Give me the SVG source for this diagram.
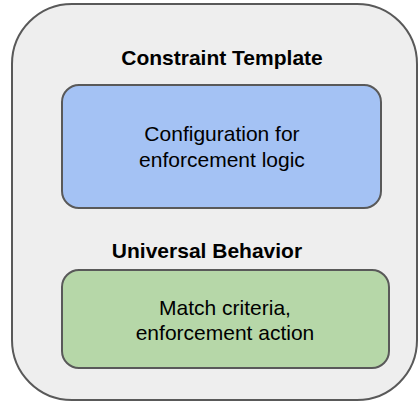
<svg xmlns="http://www.w3.org/2000/svg" width="418" height="401" viewBox="0 0 418 401">
<style>
.box{stroke:#595959;stroke-width:2}
.t{font-family:"Liberation Sans",Arial,sans-serif;font-size:21px;fill:#000;text-anchor:middle}
.b{font-weight:bold}
</style>
<rect width="418" height="401" fill="#fff"/>
<g id="outer">
<rect class="box" x="12" y="4" width="405" height="396" rx="60" ry="60" fill="#eeeeee"/>
<text class="t b" x="222" y="65">Constraint Template</text>
<text class="t b" x="207" y="258">Universal Behavior</text>
</g>
<g id="config">
<rect class="box" x="62" y="85" width="319" height="123" rx="17" ry="17" fill="#a4c2f4"/>
<text class="t" x="222" y="141">Configuration for</text>
<text class="t" x="222" y="167">enforcement logic</text>
</g>
<g id="match">
<rect class="box" x="62" y="270" width="327" height="98" rx="17" ry="17" fill="#b6d7a8"/>
<text class="t" x="225" y="315">Match criteria,</text>
<text class="t" x="225" y="340">enforcement action</text>
</g>
<g id="connectors"></g>
</svg>
